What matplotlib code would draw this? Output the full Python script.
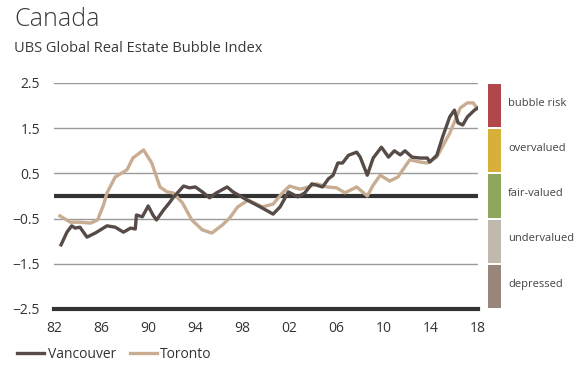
import matplotlib
matplotlib.use("Agg")
import matplotlib.pyplot as plt
import matplotlib.transforms as mtransforms
from matplotlib.patches import Rectangle

plt.rcParams['font.family'] = ['Open Sans', 'DejaVu Sans']

# Vancouver (dark line)
van_years = [1982.6, 1983.1, 1983.5, 1983.8, 1984.2, 1984.8, 1985.5, 1986.5, 1987.2, 1987.9,
             1988.5, 1988.9, 1989.0, 1989.5, 1990.0, 1990.4, 1990.7, 1991.3, 1991.8, 1992.1,
             1993.0, 1993.5, 1994.0, 1994.6, 1995.2, 1995.8, 1996.7, 1997.2, 1998.4, 1999.5,
             2000.6, 2001.2, 2001.9, 2002.7, 2003.3, 2003.9, 2004.8, 2005.3, 2005.7, 2006.1,
             2006.5, 2007.0, 2007.7, 2008.0, 2008.6, 2009.1, 2009.8, 2010.4, 2010.9, 2011.4,
             2011.8, 2012.4, 2013.1, 2013.7, 2013.9, 2014.5, 2015.0, 2015.6, 2016.0, 2016.3,
             2016.7, 2017.1, 2017.7, 2018.0]
van_vals = [-1.08, -0.80, -0.66, -0.71, -0.69, -0.91, -0.82, -0.66, -0.69, -0.80,
            -0.71, -0.73, -0.42, -0.46, -0.22, -0.42, -0.53, -0.31, -0.15, -0.04,
            0.22, 0.18, 0.20, 0.09, -0.04, 0.07, 0.20, 0.09, -0.09, -0.24,
            -0.40, -0.24, 0.09, -0.02, 0.07, 0.27, 0.20, 0.38, 0.46, 0.73,
            0.73, 0.90, 0.97, 0.86, 0.46, 0.84, 1.08, 0.86, 1.00, 0.91,
            1.00, 0.86, 0.84, 0.84, 0.75, 0.90, 1.31, 1.75, 1.90, 1.62,
            1.57, 1.75, 1.90, 1.95]

# Toronto (tan line)
tor_years = [1982.5, 1983.4, 1984.2, 1985.1, 1985.7, 1986.2, 1986.5, 1987.2, 1988.2, 1988.7,
             1989.6, 1990.3, 1991.0, 1991.6, 1992.1, 1992.9, 1993.7, 1994.6, 1995.4, 1996.3,
             1996.9, 1997.6, 1998.5, 1999.7, 2000.6, 2001.4, 2002.0, 2002.9, 2003.6, 2004.3,
             2005.2, 2006.0, 2006.7, 2007.7, 2008.6, 2009.1, 2009.7, 2010.5, 2011.2, 2012.2,
             2013.1, 2013.7, 2014.5, 2015.6, 2016.5, 2017.1, 2017.6, 2017.9]
tor_vals = [-0.44, -0.58, -0.58, -0.60, -0.53, -0.20, 0.07, 0.42, 0.58, 0.84,
            1.02, 0.73, 0.20, 0.09, 0.07, -0.15, -0.53, -0.75, -0.82, -0.64,
            -0.49, -0.24, -0.09, -0.24, -0.18, 0.07, 0.22, 0.15, 0.20, 0.27,
            0.20, 0.18, 0.07, 0.20, 0.00, 0.24, 0.46, 0.33, 0.42, 0.80,
            0.75, 0.73, 0.86, 1.39, 1.95, 2.06, 2.06, 1.95]

x_ticks = [1982, 1986, 1990, 1994, 1998, 2002, 2006, 2010, 2014, 2018]
x_labels = ['82', '86', '90', '94', '98', '02', '06', '10', '14', '18']
y_ticks = [2.5, 1.5, 0.5, -0.5, -1.5, -2.5]

band_names = ['bubble risk', 'overvalued', 'fair-valued', 'undervalued', 'depressed']
band_lo = [1.5, 0.5, -0.5, -1.5, -2.5]
band_hi = [2.5, 1.5, 0.5, -0.5, -1.5]
band_colors = ['#b0474b', '#d7b03a', '#8fa75c', '#c2b9ae', '#978679']

fig = plt.figure(figsize=(5.82, 3.77), dpi=100)
ax = fig.add_axes([54 / 582, 1 - 309 / 377, 424 / 582, 226 / 377])

# gridlines
for y in y_ticks:
    if y == -2.5:
        continue
    ax.axhline(y, color='#9a9a9a', lw=1.0, zorder=1)
ax.axhline(0, color='#333333', lw=3.0, zorder=2)
ax.axhline(-2.5, color='#333333', lw=3.0, zorder=2, clip_on=False)

ax.plot(tor_years, tor_vals, color='#c8ad92', lw=2.4, zorder=3, label='Toronto')
ax.plot(van_years, van_vals, color='#564b47', lw=2.4, zorder=4, label='Vancouver')

ax.set_xlim(1982, 2018)
ax.set_ylim(-2.5, 2.5)
ax.set_xticks(x_ticks)
ax.set_xticklabels(x_labels)
ax.set_yticks(y_ticks)
ax.set_yticklabels(['2.5', '1.5', '0.5', '\u22120.5', '\u22121.5', '\u22122.5'])
ax.tick_params(length=0, labelsize=10, colors='#333333')
ax.tick_params(axis='y', pad=10)
ax.tick_params(axis='x', pad=9)
for s in ax.spines.values():
    s.set_visible(False)

# colored valuation bands on the right
trans = mtransforms.blended_transform_factory(ax.transAxes, ax.transData)
for name, lo, hi, c in zip(band_names, band_lo, band_hi, band_colors):
    ax.add_patch(Rectangle((1.0236, lo + 0.02), 0.031, hi - lo - 0.04, transform=trans,
                           color=c, clip_on=False, lw=0))
    ax.text(1.071, (lo + hi) / 2 + 0.05, name, transform=trans, fontsize=8,
            color='#444444', va='center', ha='left')

fig.text(14 / 582, 1 - 20 / 377, 'Canada', fontsize=18, color='#3a3a3a',
         fontweight='light', va='center', ha='left')
fig.text(14 / 582, 1 - 49 / 377, 'UBS Global Real Estate Bubble Index', fontsize=10.5,
         color='#3a3a3a', va='center', ha='left')

handles, labels = ax.get_legend_handles_labels()
fig.legend(handles[::-1], labels[::-1], loc='center left', bbox_to_anchor=(17 / 582, 1 - 354 / 377),
           ncol=2, frameon=False, fontsize=10, handlelength=1.95, handletextpad=0.25,
           columnspacing=1.0, labelcolor='#333333', borderaxespad=0, borderpad=0)

fig.savefig('out.png', dpi=100)
